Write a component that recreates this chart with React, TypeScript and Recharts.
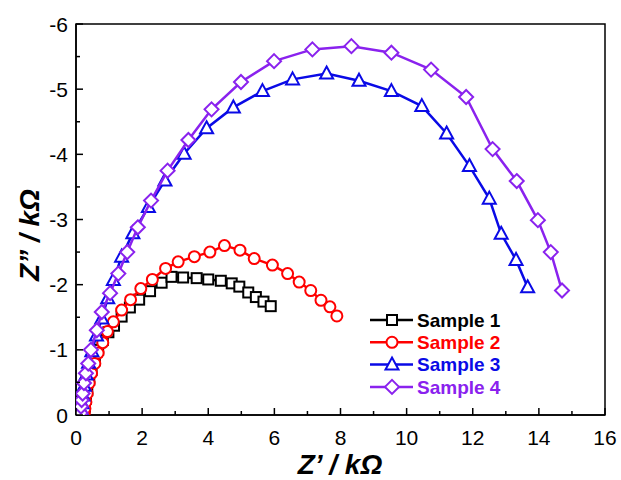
import React from 'react';
import { ScatterChart, Scatter, XAxis, YAxis, ReferenceArea } from 'recharts';

const seriesNames = ['Sample 1', 'Sample 2', 'Sample 3', 'Sample 4'];
const seriesColors = ['#000000', '#ff0000', '#0a0ae6', '#8a22ee'];

const s1X = [0.25, 0.27, 0.30, 0.34, 0.40, 0.47, 0.57, 0.67, 0.81, 0.98, 1.15, 1.38, 1.63, 1.91, 2.24, 2.59, 2.89, 3.24, 3.65, 4.00, 4.38, 4.71, 4.94, 5.21, 5.44, 5.67, 5.89];
const s1Y = [-0.03, -0.13, -0.25, -0.38, -0.54, -0.69, -0.84, -1.00, -1.15, -1.27, -1.37, -1.51, -1.65, -1.77, -1.90, -2.03, -2.12, -2.11, -2.10, -2.08, -2.06, -2.02, -1.97, -1.88, -1.81, -1.74, -1.67];

const s2X = [0.25, 0.27, 0.30, 0.34, 0.40, 0.47, 0.57, 0.67, 0.81, 0.95, 1.13, 1.38, 1.65, 1.96, 2.31, 2.71, 3.09, 3.58, 4.05, 4.49, 4.96, 5.39, 5.94, 6.40, 6.75, 7.10, 7.41, 7.68, 7.89];
const s2Y = [-0.03, -0.10, -0.20, -0.33, -0.49, -0.64, -0.79, -0.95, -1.11, -1.28, -1.43, -1.61, -1.77, -1.94, -2.08, -2.25, -2.35, -2.43, -2.50, -2.60, -2.53, -2.40, -2.30, -2.17, -2.04, -1.91, -1.76, -1.66, -1.52];

const s3X = [0.15, 0.16, 0.18, 0.21, 0.25, 0.31, 0.38, 0.48, 0.62, 0.78, 0.96, 1.13, 1.38, 1.72, 2.19, 2.69, 3.27, 3.95, 4.76, 5.64, 6.55, 7.58, 8.56, 9.54, 10.46, 11.21, 11.90, 12.50, 12.86, 13.31, 13.66];
const s3Y = [-0.02, -0.08, -0.18, -0.30, -0.45, -0.62, -0.80, -0.98, -1.22, -1.48, -1.79, -2.07, -2.43, -2.79, -3.19, -3.60, -4.01, -4.40, -4.72, -4.97, -5.15, -5.24, -5.13, -4.97, -4.74, -4.32, -3.82, -3.32, -2.78, -2.38, -1.96];

const s4X = [0.14, 0.15, 0.17, 0.20, 0.24, 0.30, 0.37, 0.45, 0.63, 0.78, 1.03, 1.28, 1.55, 1.87, 2.27, 2.77, 3.40, 4.10, 4.99, 5.99, 7.15, 8.33, 9.54, 10.74, 11.80, 12.60, 13.33, 13.97, 14.36, 14.70];
const s4Y = [-0.03, -0.13, -0.23, -0.33, -0.49, -0.64, -0.79, -1.00, -1.30, -1.58, -1.87, -2.17, -2.50, -2.88, -3.29, -3.75, -4.22, -4.69, -5.11, -5.43, -5.61, -5.66, -5.56, -5.30, -4.88, -4.08, -3.59, -2.99, -2.50, -1.91];

const xTicks = [0, 1, 2, 3, 4, 5, 6, 7, 8, 9, 10, 11, 12, 13, 14, 15, 16];
const yTicks = [-6, -5.5, -5, -4.5, -4, -3.5, -3, -2.5, -2, -1.5, -1, -0.5, 0];

const zip = (xs: number[], ys: number[]) => xs.map((x, i) => ({ x, y: ys[i] }));
const allData = [zip(s1X, s1Y), zip(s2X, s2Y), zip(s3X, s3Y), zip(s4X, s4Y)];

const FONT = '"Liberation Sans", Arial, sans-serif';

function Marker({ kind, cx, cy, color }: { kind: number; cx: number; cy: number; color: string }) {
  const sw = 2;
  if (kind === 0) {
    return <rect x={cx - 5} y={cy - 5} width={10} height={10} fill="#fff" stroke={color} strokeWidth={sw} />;
  }
  if (kind === 1) {
    return <circle cx={cx} cy={cy} r={5.5} fill="#fff" stroke={color} strokeWidth={sw} />;
  }
  if (kind === 2) {
    return (
      <polygon
        points={`${cx},${cy - 7} ${cx + 6.5},${cy + 5} ${cx - 6.5},${cy + 5}`}
        fill="#fff"
        stroke={color}
        strokeWidth={sw}
      />
    );
  }
  return (
    <polygon
      points={`${cx},${cy - 7} ${cx + 7},${cy} ${cx},${cy + 7} ${cx - 7},${cy}`}
      fill="#fff"
      stroke={color}
      strokeWidth={sw}
    />
  );
}

const makeShape = (kind: number, color: string) => (props: any) => (
  <Marker kind={kind} cx={props.cx} cy={props.cy} color={color} />
);

const XTick = (props: any) => {
  const { x, y, payload } = props;
  const v = payload.value;
  const major = v % 2 === 0;
  return (
    <g>
      <line x1={x} x2={x} y1={y} y2={y - (major ? 7 : 4)} stroke="#000" strokeWidth={1.5} />
      {major && (
        <text x={x} y={y + 30} textAnchor="middle" fontSize={21} fontFamily={FONT} fill="#000">
          {v}
        </text>
      )}
    </g>
  );
};

const YTick = (props: any) => {
  const { x, y, payload } = props;
  const v = payload.value;
  const major = Number.isInteger(v);
  return (
    <g>
      <line x1={x} x2={x + (major ? 7 : 4)} y1={y} y2={y} stroke="#000" strokeWidth={1.5} />
      {major && (
        <text x={x - 8} y={y} dy="0.36em" textAnchor="end" fontSize={21} fontFamily={FONT} fill="#000">
          {v}
        </text>
      )}
    </g>
  );
};

const LegendBox = () => (
  <svg width={190} height={95} style={{ position: 'absolute', left: 362, top: 308 }}>
    {seriesNames.map((name, i) => {
      const cy = 12 + i * 22.3;
      return (
        <g key={name}>
          <line x1={8} x2={51} y1={cy} y2={cy} stroke={seriesColors[i]} strokeWidth={2.5} />
          <Marker kind={i} cx={30} cy={cy} color={seriesColors[i]} />
          <text
            x={55}
            y={cy}
            dy="0.35em"
            fontSize={19}
            fontWeight="bold"
            fontFamily={FONT}
            fill={seriesColors[i]}
          >
            {name}
          </text>
        </g>
      );
    })}
  </svg>
);

export default function App() {
  return (
    <div style={{ position: 'absolute', left: 0, top: 0, width: 621, height: 480, background: '#fff' }}>
      <ScatterChart width={621} height={480} margin={{ top: 24, right: 16, left: 0, bottom: 0 }}>
        <XAxis
          type="number"
          dataKey="x"
          domain={[0, 16]}
          ticks={xTicks}
          interval={0}
          tick={<XTick />}
          tickLine={false}
          tickSize={0}
          tickMargin={0}
          height={65}
          axisLine={{ stroke: '#000', strokeWidth: 1.5 }}
          allowDataOverflow
        />
        <YAxis
          type="number"
          dataKey="y"
          domain={[-6, 0]}
          reversed
          ticks={yTicks}
          interval={0}
          tick={<YTick />}
          tickLine={false}
          tickSize={0}
          tickMargin={0}
          width={76}
          axisLine={{ stroke: '#000', strokeWidth: 1.5 }}
          allowDataOverflow
        />
        <ReferenceArea x1={0} x2={16} y1={-6} y2={0} fill="none" stroke="#000" strokeWidth={1.5} ifOverflow="visible" />
        {allData.map((d, i) => (
          <Scatter
            key={seriesNames[i]}
            name={seriesNames[i]}
            data={d}
            fill="#fff"
            line={{ stroke: seriesColors[i], strokeWidth: 2.5 }}
            lineType="joint"
            shape={makeShape(i, seriesColors[i])}
            isAnimationActive={false}
          />
        ))}
      </ScatterChart>
      <LegendBox />
      <div
        style={{
          position: 'absolute',
          left: 240,
          top: 449,
          width: 200,
          textAlign: 'center',
          fontFamily: FONT,
          fontSize: 28,
          fontWeight: 'bold',
          fontStyle: 'italic',
          lineHeight: '32px',
        }}
      >
        Z’ / kΩ
      </div>
      <div
        style={{
          position: 'absolute',
          left: 30 - 100,
          top: 235 - 16,
          width: 200,
          textAlign: 'center',
          fontFamily: FONT,
          fontSize: 28,
          fontWeight: 'bold',
          fontStyle: 'italic',
          lineHeight: '32px',
          transform: 'rotate(-90deg)',
        }}
      >
        Z” / kΩ
      </div>
    </div>
  );
}
